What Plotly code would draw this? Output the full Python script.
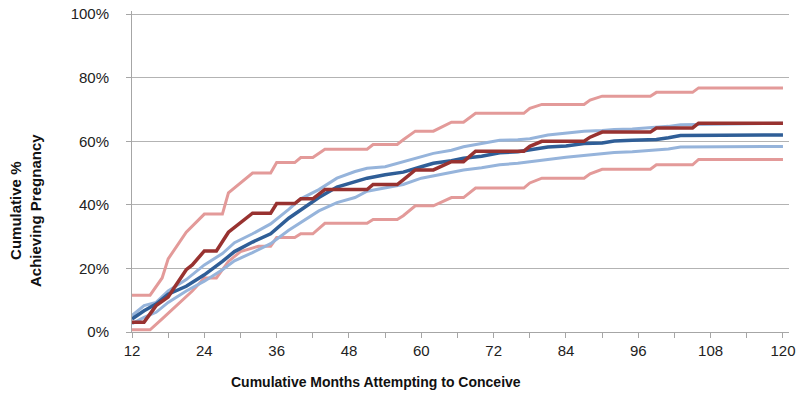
import plotly.graph_objects as go

# ---- data (cumulative % achieving pregnancy by cumulative months) ----
blue_months = [12, 14, 16, 18, 21, 24, 27, 29, 32, 35, 38, 40, 43, 46, 49, 51, 54, 57,
               60, 62, 65, 67, 70, 73, 76, 78, 81, 84, 87, 90, 92, 95, 99, 101, 103, 120]
blue_mid = [4.1, 6.7, 8.8, 11.9, 14.4, 18.0, 22.2, 25.3, 28.3, 30.9, 35.8, 38.5, 42.3, 45.6,
            47.4, 48.4, 49.5, 50.3, 52.0, 53.1, 53.9, 54.7, 55.3, 56.4, 56.7, 57.2, 58.2,
            58.5, 59.3, 59.5, 60.1, 60.3, 60.6, 61.1, 61.8, 62.0]
blue_hi = [5.2, 8.3, 9.3, 12.9, 16.5, 21.1, 24.7, 28.1, 30.9, 34.0, 38.6, 41.9, 44.8, 48.4,
           50.5, 51.5, 52.0, 53.6, 55.1, 56.2, 57.2, 58.3, 59.3, 60.3, 60.5, 60.8, 62.0,
           62.6, 63.2, 63.4, 63.7, 63.9, 64.4, 64.7, 65.2, 65.7]
blue_lo = [2.6, 4.6, 6.2, 9.3, 12.9, 16.0, 19.6, 22.4, 25.0, 27.8, 32.0, 34.5, 38.1, 40.7,
           42.3, 44.3, 45.3, 46.4, 48.4, 49.1, 50.1, 51.0, 51.7, 52.6, 53.1, 53.5, 54.3,
           55.0, 55.6, 56.2, 56.5, 56.7, 57.2, 57.6, 58.2, 58.4]

red_hi_months = [12, 15, 17, 18, 21, 24, 27, 28, 32, 35, 36, 39, 40, 42, 44, 51, 52, 56, 57,
                 59, 62, 65, 67, 68, 69, 77, 78, 80, 87, 88, 90, 98, 99, 105, 106, 120]
red_hi = [11.6, 11.6, 17.0, 23.0, 31.4, 37.1, 37.1, 43.8, 50.0, 50.0, 53.3, 53.3, 54.9, 54.9,
          57.5, 57.5, 59.0, 59.0, 60.5, 63.2, 63.2, 66.0, 66.0, 67.5, 68.8, 68.8, 70.4, 71.6,
          71.6, 73.0, 74.2, 74.2, 75.4, 75.4, 76.8, 76.8]

red_lo_months = [12, 15, 17, 19, 22, 24, 26, 28, 30, 33, 35, 36, 39, 40, 42, 44, 51, 52, 56,
                 57, 59, 62, 65, 67, 68, 69, 77, 78, 80, 87, 88, 90, 98, 99, 105, 106, 120]
red_lo = [0.7, 0.7, 4.1, 7.7, 12.9, 17.0, 17.0, 22.2, 25.3, 27.0, 27.0, 29.7, 29.7, 30.9,
          30.9, 34.2, 34.2, 35.4, 35.4, 36.6, 39.7, 39.7, 42.3, 42.3, 43.8, 45.3, 45.3, 46.9,
          48.4, 48.4, 49.8, 51.2, 51.2, 52.6, 52.6, 54.3, 54.3]

red_mid_months = [12, 14, 16, 18, 19, 21, 22, 24, 26, 28, 32, 35, 36, 39, 40, 42, 44, 51, 52,
                  56, 57, 59, 62, 65, 67, 68, 69, 77, 78, 80, 87, 88, 90, 98, 99, 105, 106, 120]
red_mid = [3.1, 3.1, 8.3, 11.0, 13.9, 19.6, 21.1, 25.5, 25.5, 31.4, 37.4, 37.4, 40.4, 40.4,
           41.9, 41.9, 44.8, 44.8, 46.4, 46.4, 47.9, 51.0, 51.0, 53.6, 53.6, 55.3, 56.9, 56.9,
           58.4, 60.0, 60.0, 61.3, 62.9, 62.9, 64.2, 64.2, 65.7, 65.7]

x_ticks = [12, 24, 36, 48, 60, 72, 84, 96, 108, 120]
y_ticks = [0, 20, 40, 60, 80, 100]
y_tick_labels = ["0%", "20%", "40%", "60%", "80%", "100%"]

LIGHT_RED = "#e39a99"
DARK_RED = "#983230"
LIGHT_BLUE = "#96b4db"
DARK_BLUE = "#2f5e97"
FONT = "Liberation Sans, Arial, sans-serif"

fig = go.Figure()
series = [
    (red_hi_months, red_hi, LIGHT_RED, 3),
    (red_lo_months, red_lo, LIGHT_RED, 3),
    (blue_months, blue_hi, LIGHT_BLUE, 3),
    (blue_months, blue_lo, LIGHT_BLUE, 3),
    (blue_months, blue_mid, DARK_BLUE, 3.5),
    (red_mid_months, red_mid, DARK_RED, 3.5),
]
for xs, ys, col, w in series:
    fig.add_trace(go.Scatter(x=xs, y=ys, mode="lines",
                             line=dict(color=col, width=w), showlegend=False,
                             hoverinfo="skip"))

fig.update_layout(
    width=800, height=415,
    margin=dict(l=132, r=10, t=5, b=83),
    plot_bgcolor="white", paper_bgcolor="white",
    font=dict(family=FONT, size=15, color="#222222"),
)
fig.update_xaxes(
    range=[12, 121], tickvals=x_ticks, ticktext=[str(v) for v in x_ticks],
    showgrid=False, zeroline=False,
    showline=True, linecolor="#a6a6a6", linewidth=1,
    ticks="outside", ticklen=5, tickcolor="#a6a6a6",
    minor=dict(tickvals=list(range(18, 121, 12)), ticks="outside", ticklen=5,
               tickcolor="#a6a6a6", showgrid=False),
    tickfont=dict(family=FONT, size=15, color="#222222"),
)
fig.update_yaxes(
    range=[0, 101], tickvals=y_ticks, ticktext=y_tick_labels,
    showgrid=True, gridcolor="#b3b3b3", gridwidth=1, zeroline=False,
    showline=True, linecolor="#a6a6a6", linewidth=1,
    ticks="outside", ticklen=5, tickcolor="#a6a6a6", ticklabelstandoff=14,
    ticklabeloverflow="allow",
    tickfont=dict(family=FONT, size=15, color="#222222"),
)
fig.add_annotation(
    text="<b>Cumulative Months Attempting to Conceive</b>",
    xref="paper", yref="paper", x=0.371, y=-0.157, yanchor="middle", xanchor="center",
    showarrow=False, font=dict(family=FONT, size=14, color="#111111"),
)
fig.add_annotation(
    text="<b>Cumulative %<br>Achieving Pregnancy</b>",
    xref="paper", yref="paper", x=0, y=0.377, xanchor="center", yanchor="middle",
    xshift=-106, textangle=-90,
    showarrow=False, font=dict(family=FONT, size=15, color="#111111"),
)
fig.write_html("out.html", config={"displayModeBar": False},
               post_script="document.body.style.margin='0px';")
